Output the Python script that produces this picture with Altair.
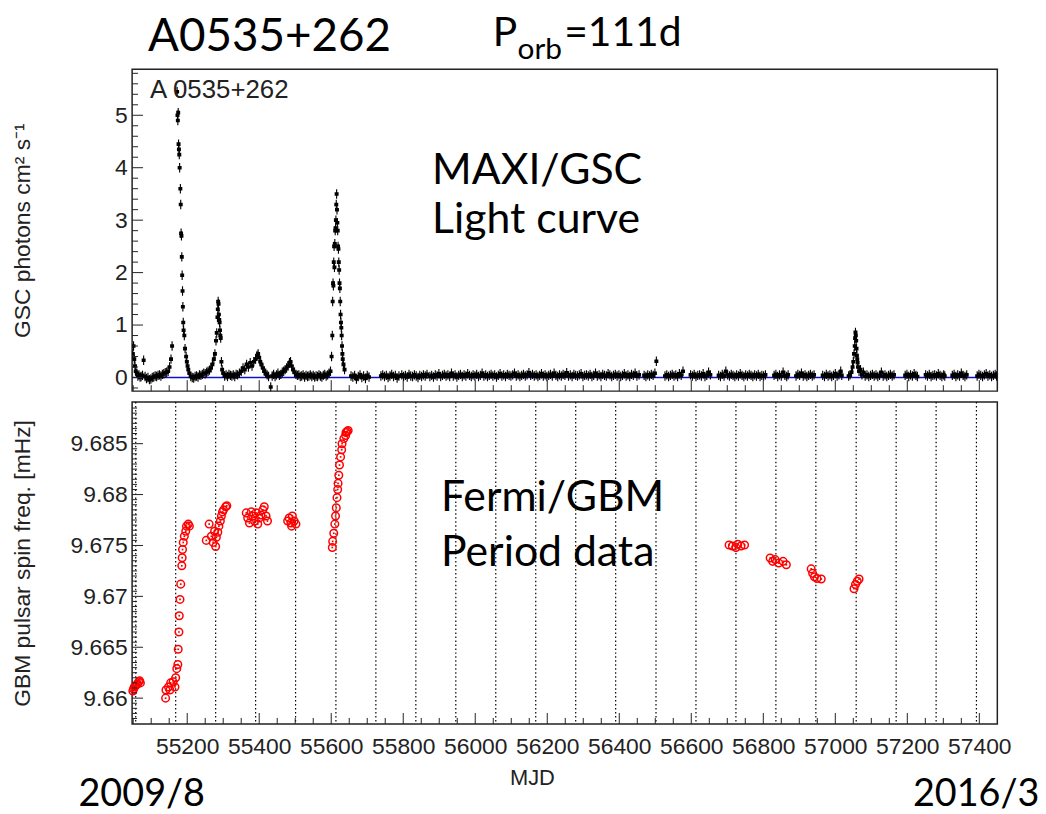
import altair as alt
import pandas as pd

# ---------------- data ----------------
# MAXI/GSC light curve (MJD, photons cm^-2 s^-1)
lc_points = [
    (55049, 0.45), (55051, 0.60), (55053, 0.35), (55055, 0.22), (55057, 0.12), (55060, 0.08), (55063, 0.03), (55066, 0.05), (55069, 0.01), (55072, 0.02),
    (55076, 0.04), (55079, 0.33), (55083, 0.02), (55087, -0.02), (55091, 0.00), (55095, -0.04), (55099, -0.03), (55103, 0.00), (55107, 0.01), (55111, 0.03),
    (55115, 0.02), (55119, 0.04), (55123, 0.05), (55127, 0.03), (55131, 0.06), (55135, 0.07), (55139, 0.09), (55143, 0.10), (55147, 0.12), (55151, 0.20),
    (55155, 0.35), (55158, 0.60), (55172, 5.45), (55173, 5.00), (55174, 4.90), (55175, 5.05), (55176, 4.45), (55177, 4.35), (55178, 4.25), (55179, 4.00),
    (55181, 3.60), (55182, 3.30), (55183, 2.75), (55184, 2.70), (55185, 2.30), (55186, 1.95), (55187, 1.65), (55188, 1.35), (55189, 1.05), (55190, 0.90),
    (55192, 0.80), (55194, 0.55), (55197, 0.40), (55199, 0.30), (55201, 0.22), (55203, 0.15), (55206, 0.08), (55210, 0.02), (55214, 0.00), (55218, -0.01),
    (55222, 0.02), (55226, 0.03), (55230, 0.01), (55234, 0.05), (55238, 0.04), (55242, 0.06), (55246, 0.08), (55250, 0.07), (55254, 0.10), (55258, 0.12),
    (55262, 0.14), (55266, 0.18), (55270, 0.25), (55274, 0.35), (55277, 0.45), (55280, 0.70), (55282, 0.85), (55284, 1.15), (55285, 1.30), (55286, 1.45),
    (55287, 1.40), (55288, 1.20), (55289, 1.10), (55290, 1.05), (55291, 0.90), (55292, 0.80), (55293, 0.75), (55295, 0.30), (55297, 0.15), (55300, 0.08),
    (55304, 0.03), (55308, 0.05), (55312, 0.02), (55316, 0.06), (55320, 0.04), (55324, 0.03), (55328, 0.05), (55332, 0.02), (55336, 0.06), (55340, 0.05),
    (55345, 0.08), (55350, 0.12), (55355, 0.18), (55360, 0.15), (55365, 0.25), (55370, 0.20), (55375, 0.28), (55380, 0.22), (55385, 0.30), (55390, 0.35),
    (55394, 0.42), (55397, 0.45), (55400, 0.38), (55403, 0.30), (55406, 0.25), (55410, 0.18), (55414, 0.12), (55418, 0.08), (55422, 0.05), (55426, 0.02),
    (55432, -0.18), (55436, 0.03), (55440, 0.06), (55444, 0.02), (55448, 0.05), (55452, 0.08), (55456, 0.04), (55460, 0.06), (55464, 0.10), (55468, 0.12),
    (55472, 0.15), (55476, 0.18), (55480, 0.22), (55484, 0.28), (55487, 0.30), (55490, 0.22), (55494, 0.15), (55498, 0.10), (55502, 0.06), (55506, 0.04),
    (55510, 0.05), (55514, 0.02), (55518, 0.03), (55522, 0.05), (55526, 0.01), (55530, 0.04), (55534, 0.02), (55538, 0.03), (55542, 0.05), (55546, 0.02),
    (55550, 0.04), (55554, 0.01), (55558, 0.03), (55562, 0.02), (55566, 0.05), (55570, 0.03), (55574, 0.01), (55578, 0.04), (55582, 0.06), (55586, 0.03),
    (55590, 0.05), (55594, 0.08), (55598, 0.12), (55601, 0.40), (55603, 0.80), (55604, 1.45), (55605, 1.80), (55606, 1.75), (55607, 2.20), (55608, 2.50),
    (55609, 2.10), (55610, 2.55), (55611, 2.80), (55612, 2.85), (55613, 3.00), (55614, 3.30), (55615, 3.50), (55616, 3.20), (55617, 2.95), (55618, 2.80),
    (55619, 2.50), (55620, 2.45), (55621, 2.20), (55622, 2.05), (55623, 1.80), (55624, 1.70), (55625, 1.45), (55626, 1.20), (55627, 1.05), (55628, 0.95),
    (55629, 0.80), (55630, 0.60), (55631, 0.45), (55632, 0.35), (55634, 0.25), (55637, 0.15), (55655, 0.03), (55660, 0.01), (55665, 0.04), (55670, -0.03),
    (55675, 0.02), (55680, 0.05), (55685, 0.00), (55690, 0.03), (55695, -0.02), (55700, 0.04), (55705, 0.01), (55738, 0.03), (55743, 0.05), (55748, 0.02),
    (55753, 0.04), (55758, 0.00), (55763, 0.03), (55768, 0.06), (55773, 0.02), (55778, 0.04), (55783, -0.01), (55788, 0.03), (55796, 0.05), (55801, 0.02),
    (55806, 0.04), (55811, 0.01), (55816, 0.06), (55821, 0.03), (55826, 0.02), (55831, 0.05), (55836, 0.03), (55841, 0.00), (55846, 0.04), (55851, 0.02),
    (55856, 0.05), (55861, 0.03), (55866, 0.06), (55874, 0.02), (55879, 0.04), (55884, 0.01), (55889, 0.05), (55894, 0.03), (55899, 0.07), (55904, 0.02),
    (55909, 0.04), (55914, 0.06), (55919, 0.03), (55924, 0.05), (55929, 0.02), (55934, 0.08), (55939, 0.03), (55944, 0.05), (55949, 0.01), (55954, 0.04),
    (55959, 0.06), (55964, 0.02), (55969, 0.05), (55974, 0.03), (55979, 0.07), (55984, 0.04), (55989, 0.02), (55994, 0.05), (55999, 0.03), (56004, 0.06),
    (56009, 0.02), (56014, 0.04), (56019, 0.08), (56024, 0.03), (56029, 0.05), (56034, 0.02), (56039, 0.04), (56044, 0.06), (56049, 0.03), (56054, 0.05),
    (56059, 0.01), (56064, 0.04), (56069, 0.07), (56074, 0.03), (56079, 0.05), (56084, 0.02), (56089, 0.06), (56094, 0.04), (56099, 0.03), (56104, 0.05),
    (56109, 0.08), (56114, 0.03), (56119, 0.05), (56124, 0.02), (56129, 0.04), (56134, 0.06), (56139, 0.03), (56144, 0.05), (56149, 0.09), (56154, 0.04),
    (56159, 0.06), (56164, 0.03), (56169, 0.05), (56174, 0.02), (56179, 0.04), (56184, 0.07), (56189, 0.03), (56194, 0.05), (56199, 0.02), (56204, 0.04),
    (56209, 0.06), (56214, 0.03), (56219, 0.08), (56224, 0.04), (56229, 0.02), (56234, 0.05), (56239, 0.03), (56244, 0.06), (56249, 0.04), (56254, 0.09),
    (56259, 0.03), (56264, 0.05), (56269, 0.02), (56274, 0.06), (56279, 0.04), (56284, 0.03), (56289, 0.05), (56294, 0.07), (56299, 0.02), (56304, 0.04),
    (56309, 0.05), (56314, 0.03), (56319, 0.06), (56324, 0.02), (56329, 0.04), (56334, 0.08), (56339, 0.03), (56344, 0.05), (56349, 0.02), (56354, 0.06),
    (56359, 0.04), (56364, 0.03), (56369, 0.07), (56374, 0.05), (56379, 0.02), (56384, 0.04), (56389, 0.06), (56394, 0.03), (56399, 0.05), (56404, 0.02),
    (56409, 0.04), (56414, 0.07), (56419, 0.03), (56424, 0.05), (56429, 0.02), (56434, 0.06), (56439, 0.04), (56444, 0.08), (56449, 0.03), (56455, 0.05),
    (56469, 0.04), (56474, 0.02), (56479, 0.05), (56484, 0.03), (56489, 0.06), (56494, 0.04), (56499, 0.08), (56503, 0.31), (56527, 0.03), (56532, 0.05),
    (56537, 0.02), (56542, 0.04), (56547, 0.06), (56552, 0.03), (56557, 0.05), (56562, 0.02), (56567, 0.07), (56572, 0.04), (56577, 0.12), (56598, 0.05),
    (56603, 0.03), (56608, 0.06), (56613, 0.02), (56618, 0.04), (56623, 0.05), (56628, 0.03), (56633, 0.07), (56638, 0.02), (56643, 0.04), (56648, 0.10),
    (56653, 0.05), (56676, 0.04), (56681, 0.02), (56686, 0.06), (56691, 0.03), (56696, 0.12), (56701, 0.05), (56706, 0.03), (56711, 0.06), (56716, 0.04),
    (56721, 0.02), (56726, 0.05), (56731, 0.03), (56736, 0.07), (56741, 0.04), (56746, 0.02), (56751, 0.05), (56756, 0.03), (56761, 0.06), (56766, 0.04),
    (56771, 0.02), (56776, 0.05), (56781, 0.03), (56786, 0.06), (56791, 0.02), (56796, 0.04), (56801, 0.03), (56806, 0.05), (56830, 0.04), (56835, 0.06),
    (56840, 0.02), (56845, 0.05), (56850, 0.03), (56855, 0.10), (56860, 0.04), (56865, 0.02), (56869, 0.05), (56891, 0.03), (56896, 0.06), (56901, 0.04),
    (56906, 0.08), (56911, 0.03), (56916, 0.05), (56921, 0.02), (56926, 0.04), (56931, 0.06), (56936, 0.03), (56941, 0.05), (56965, 0.04), (56970, 0.02),
    (56975, 0.06), (56980, 0.03), (56985, 0.05), (56990, 0.02), (56995, 0.04), (57000, 0.07), (57005, 0.03), (57010, 0.05), (57015, 0.12), (57018, 0.04),
    (57037, 0.03), (57041, 0.05), (57045, 0.10), (57048, 0.20), (57050, 0.30), (57052, 0.45), (57054, 0.60), (57055, 0.75), (57056, 0.86), (57057, 0.80),
    (57058, 0.70), (57059, 0.55), (57060, 0.42), (57061, 0.35), (57062, 0.28), (57063, 0.20), (57066, 0.12), (57070, 0.15), (57074, 0.05), (57078, 0.10),
    (57083, 0.03), (57088, 0.05), (57093, 0.02), (57098, 0.04), (57103, 0.06), (57108, 0.03), (57113, 0.05), (57118, 0.02), (57123, 0.04), (57128, 0.10),
    (57133, 0.03), (57138, 0.05), (57143, 0.02), (57148, 0.04), (57153, 0.06), (57158, 0.03), (57163, 0.05), (57194, 0.04), (57199, 0.06), (57204, 0.02),
    (57209, 0.05), (57214, 0.03), (57219, 0.07), (57224, 0.04), (57228, 0.02), (57251, 0.05), (57256, 0.03), (57261, 0.06), (57266, 0.02), (57271, 0.04),
    (57276, 0.05), (57281, 0.03), (57286, 0.07), (57291, 0.04), (57296, 0.02), (57301, 0.05), (57304, 0.03), (57325, 0.04), (57330, 0.06), (57335, 0.02),
    (57340, 0.05), (57345, 0.03), (57350, 0.08), (57355, 0.04), (57360, 0.02), (57365, 0.05), (57394, 0.03), (57399, 0.06), (57404, 0.04), (57409, 0.02),
    (57414, 0.05), (57419, 0.07), (57424, 0.03), (57429, 0.05), (57434, 0.02), (57439, 0.04), (57444, 0.06), (57448, 0.03),
]

# Fermi/GBM pulsar spin frequency (MJD, mHz)
gbm_points = [
    (55049, 9.6607), (55051, 9.6609), (55053, 9.6611), (55056, 9.6612), (55059, 9.6613), (55062, 9.6614), (55065, 9.6616), (55068, 9.6617), (55070, 9.6615),
    (55140, 9.6600), (55141, 9.6608), (55148, 9.6611), (55152, 9.6608), (55154, 9.6615), (55161, 9.6616), (55166, 9.6611), (55168, 9.6620),
    (55171, 9.6629), (55174, 9.6633), (55175, 9.6648), (55177, 9.6665), (55178, 9.6681), (55180, 9.6697), (55182, 9.6712), (55185, 9.6730),
    (55186, 9.6738), (55187, 9.6746), (55189, 9.6753), (55192, 9.6759), (55196, 9.6764), (55198, 9.6769), (55203, 9.6771), (55206, 9.6769),
    (55253, 9.6755), (55261, 9.6771), (55267, 9.6759), (55272, 9.6753), (55276, 9.6764), (55279, 9.6749), (55281, 9.6758), (55285, 9.6763),
    (55288, 9.6769), (55292, 9.6774), (55295, 9.6779), (55298, 9.6783), (55301, 9.6785), (55307, 9.6788), (55310, 9.6789),
    (55364, 9.6782), (55368, 9.6777), (55373, 9.6772), (55378, 9.6783), (55382, 9.6779), (55387, 9.6774), (55391, 9.6782), (55396, 9.6771),
    (55400, 9.6777), (55405, 9.6780), (55410, 9.6785), (55414, 9.6788), (55419, 9.6779), (55423, 9.6774),
    (55479, 9.6774), (55483, 9.6777), (55488, 9.6772), (55490, 9.6769), (55492, 9.6779), (55497, 9.6774), (55502, 9.6771),
    (55603, 9.6748), (55604, 9.6754), (55607, 9.6762), (55610, 9.6771), (55612, 9.6779), (55614, 9.6787), (55616, 9.6797), (55618, 9.6805),
    (55619, 9.6811), (55621, 9.6819), (55623, 9.6829), (55626, 9.6837), (55629, 9.6844), (55630, 9.6850), (55635, 9.6855), (55640, 9.6858),
    (55641, 9.6861), (55644, 9.6862), (55647, 9.6863),
    (56705, 9.67505), (56714, 9.67495), (56724, 9.67479), (56729, 9.67512), (56738, 9.67495), (56748, 9.67505),
    (56819, 9.67377), (56826, 9.67344), (56833, 9.67361), (56843, 9.67327), (56855, 9.67344), (56864, 9.67310),
    (56933, 9.67270), (56937, 9.67226), (56942, 9.67193), (56949, 9.67176), (56961, 9.67170),
    (57052, 9.67075), (57056, 9.67116), (57061, 9.67149), (57066, 9.67170),
]

# periastron epochs (dotted lines, P_orb = 111 d)
periastron_mjd = [55057, 55168, 55279, 55390, 55501, 55613, 55724, 55835, 55946, 56057, 56168,
                  56279, 56390, 56502, 56613, 56724, 56835, 56946, 57058, 57169, 57280, 57392]

# axis ticks
x_major = [55200, 55400, 55600, 55800, 56000, 56200, 56400, 56600, 56800, 57000, 57200, 57400]
x_minor = [55050, 55100, 55150, 55250, 55300, 55350, 55450, 55500, 55550, 55650, 55700, 55750,
           55850, 55900, 55950, 56050, 56100, 56150, 56250, 56300, 56350, 56450, 56500, 56550,
           56650, 56700, 56750, 56850, 56900, 56950, 57050, 57100, 57150, 57250, 57300, 57350]
y1_major = [0, 1, 2, 3, 4, 5]
y1_minor = [-0.2, 0.2, 0.4, 0.6, 0.8, 1.2, 1.4, 1.6, 1.8, 2.2, 2.4, 2.6, 2.8, 3.2, 3.4, 3.6, 3.8,
            4.2, 4.4, 4.6, 4.8, 5.2, 5.4, 5.6, 5.8]
y2_major = [9.66, 9.665, 9.67, 9.675, 9.68, 9.685]
y2_minor = [round(9.658 + 0.0005 * i, 4) for i in range(62)]
y2_minor = [v for v in y2_minor if all(abs(v - m) > 1e-6 for m in y2_major)]

X_DOMAIN = [55047, 57450]
Y1_DOMAIN = [-0.26, 5.877]
Y2_DOMAIN = [9.65747, 9.68909]

W, H1, H2 = 871, 324, 324
AX_FONT = "Liberation Sans"
TXT_FONT = "Lato"
FRAME = "#222222"
EXT = 63

lc_df = pd.DataFrame(lc_points, columns=["mjd", "flux"])
gbm_df = pd.DataFrame(gbm_points, columns=["mjd", "freq"])

xscale = alt.Scale(domain=X_DOMAIN, nice=False, zero=False)
x_top = alt.X("mjd:Q", scale=xscale, axis=None)
x_bot = alt.X("mjd:Q", scale=xscale,
              axis=alt.Axis(values=x_major, format="d", ticks=False, domain=False, grid=False,
                            labelFont=AX_FONT, labelFontSize=23, labelColor=FRAME,
                            labelPadding=12, title=None))

def y_axis(values, fmt, title):
    return alt.Axis(values=values, format=fmt, ticks=False, domain=False, grid=False,
                    labelFont=AX_FONT, labelFontSize=23, labelColor=FRAME, labelPadding=5,
                    minExtent=EXT, maxExtent=EXT, title=title, titleFont=AX_FONT,
                    titleFontSize=23, titleFontWeight="normal", titleColor=FRAME,
                    titlePadding=35)

y_top = alt.Y("flux:Q", scale=alt.Scale(domain=Y1_DOMAIN, nice=False, zero=False),
              axis=y_axis(y1_major, "d", "GSC photons cm² s⁻¹"))
y_bot = alt.Y("freq:Q", scale=alt.Scale(domain=Y2_DOMAIN, nice=False, zero=False),
              axis=y_axis(y2_major, ".3~f", "GBM pulsar spin freq. [mHz]"))


def text(label, x, y, size, font=TXT_FONT, align="left", color="black"):
    return alt.Chart(pd.DataFrame({"t": [label]})).mark_text(
        font=font, fontSize=size, align=align, baseline="alphabetic", color=color
    ).encode(text="t:N", x=alt.value(x), y=alt.value(y))


def xticks(xenc, h, values, length):
    return alt.Chart(pd.DataFrame({"mjd": values})).mark_rule(color=FRAME, strokeWidth=1).encode(
        x=xenc, y=alt.value(h), y2=alt.value(h - length))


def yticks(yenc, field, values, length):
    return alt.Chart(pd.DataFrame({field: values})).mark_rule(color=FRAME, strokeWidth=1).encode(
        y=yenc, x=alt.value(0), x2=alt.value(length))


# ---------------- top panel: MAXI/GSC ----------------
zero_line = alt.Chart(pd.DataFrame({"flux": [0]})).mark_rule(color="#1010c8", strokeWidth=1.5).encode(y=y_top)
lc = alt.Chart(lc_df).mark_point(
    shape="M-0.12,-1H0.12V1H-0.12Z M-0.42,-0.38H0.42V0.38H-0.42Z",
    filled=True, color="black", opacity=1, size=90, clip=True
).encode(x=x_top, y=y_top)

top = alt.layer(
    zero_line, lc,
    xticks(x_top, H1, x_major, 11), xticks(x_top, H1, x_minor, 6),
    yticks(y_top, "flux", y1_major, 11), yticks(y_top, "flux", y1_minor, 6),
    text("A 0535+262", 18, 29, 26, font=AX_FONT, color=FRAME),
    text("MAXI/GSC", 302, 115, 43),
    text("Light curve", 302, 165, 43),
    text("A0535+262", 16, -18, 46),
    text("P", 363, -23, 41),
    text("orb", 388, -10, 30),
    text("=111d", 435, -23, 41),
).properties(width=W, height=H1)

# ---------------- bottom panel: Fermi/GBM ----------------
peri = alt.Chart(pd.DataFrame({"mjd": periastron_mjd})).mark_rule(
    color="black", strokeWidth=1.2, strokeDash=[1.5, 2.5]).encode(x=x_bot)
circles = alt.Chart(gbm_df).mark_point(
    shape="circle", filled=False, color="#ff0000", size=58, strokeWidth=1.5, opacity=1
).encode(x=x_bot, y=y_bot)
dots = alt.Chart(gbm_df).mark_point(
    shape="square", filled=True, color="#ff0000", size=3, opacity=1
).encode(x=x_bot, y=y_bot)

bottom = alt.layer(
    peri, circles, dots,
    xticks(x_bot, H2, x_major, 11), xticks(x_bot, H2, x_minor, 6),
    yticks(y_bot, "freq", y2_major, 11), yticks(y_bot, "freq", y2_minor, 5),
    text("Fermi/GBM", 311, 110, 43),
    text("Period data", 311, 165, 43),
    text("MJD", 403, 386, 22, font=AX_FONT, align="center", color=FRAME),
    text("2009/8", -54, 407, 38),
    text("2016/3", 786, 407, 38),
).properties(width=W, height=H2)

chart = alt.vconcat(top, bottom, spacing=7).properties(
    padding={"left": 11, "top": 10, "right": 5, "bottom": 2},
    background="white",
).configure_view(stroke=FRAME, strokeWidth=1.5)

chart.save("out.html", embed_options={"renderer": "svg", "actions": False})
